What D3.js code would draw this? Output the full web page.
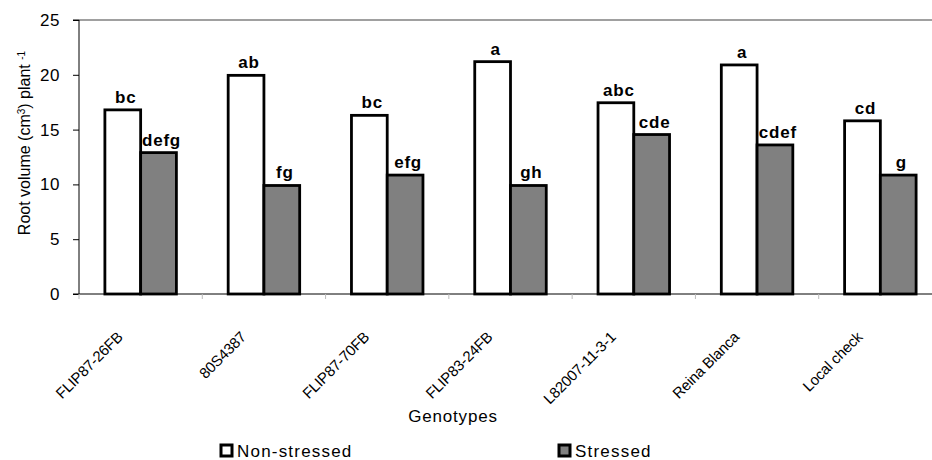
<!DOCTYPE html>
<html>
<head>
<meta charset="utf-8">
<script src="https://cdn.jsdelivr.net/npm/d3@7/dist/d3.min.js"></script>
<style>
  html, body { margin: 0; padding: 0; background: #fff; }
  svg { display: block; font-family: "Liberation Sans", Arial, sans-serif; }
</style>
</head>
<body>
<svg id="chart" width="932" height="460"></svg>
<script>
const categories = ["FLIP87-26FB", "80S4387", "FLIP87-70FB", "FLIP83-24FB", "L82007-11-3-1", "Reina Blanca", "Local check"];
const seriesNames = ["Non-stressed", "Stressed"];
const nonStressed = [16.8, 19.95, 16.3, 21.2, 17.45, 20.9, 15.8];
const stressed = [12.9, 9.9, 10.85, 9.9, 14.55, 13.6, 10.85];
const nonStressedLetters = ["bc", "ab", "bc", "a", "abc", "a", "cd"];
const stressedLetters = ["defg", "fg", "efg", "gh", "cde", "cdef", "g"];
const yTicks = [0, 5, 10, 15, 20, 25];
const seriesColors = ["#ffffff", "#808080"];

const svg = d3.select("#chart");
const mLeft = 79, mRight = 942, mTop = 20, mBottom = 294;

const y = d3.scaleLinear().domain([0, 25]).range([mBottom, mTop]);
const x0 = d3.scaleBand().domain(categories).range([mLeft, mRight]).paddingInner(0.42).paddingOuter(0.21);
const step = x0.step();
const x1 = d3.scaleBand().domain(seriesNames).range([0, x0.bandwidth()]).padding(0);

const data = categories.map((c, i) => ({
  cat: c,
  vals: [
    { s: seriesNames[0], v: nonStressed[i], lab: nonStressedLetters[i], fill: seriesColors[0] },
    { s: seriesNames[1], v: stressed[i], lab: stressedLetters[i], fill: seriesColors[1] }
  ]
}));

// top border
svg.append("line").attr("x1", mLeft).attr("x2", 932).attr("y1", mTop).attr("y2", mTop)
  .attr("stroke", "#808080").attr("stroke-width", 1.3);

// y axis
const yAxis = d3.axisLeft(y).tickValues(yTicks).tickSize(6).tickPadding(13);
const gy = svg.append("g").attr("transform", `translate(${mLeft},0)`).call(yAxis);
gy.select(".domain").attr("stroke", "#000").attr("d", `M-6,${mTop}H0V${mBottom}H-6`);
gy.selectAll(".tick line").attr("stroke", "#000");
gy.selectAll(".tick text").attr("font-size", 17).attr("fill", "#000").attr("letter-spacing", 0.5)
  .attr("font-family", "Liberation Sans, Arial, sans-serif");

// x axis line
svg.append("line").attr("x1", mLeft).attr("x2", 932).attr("y1", mBottom).attr("y2", mBottom)
  .attr("stroke", "#000").attr("stroke-width", 1);

// category boundary ticks
svg.append("g").selectAll("line").data(categories).join("line")
  .attr("x1", d => x0(d) - step * x0.paddingOuter())
  .attr("x2", d => x0(d) - step * x0.paddingOuter())
  .attr("y1", mBottom).attr("y2", mBottom + 5)
  .attr("stroke", "#bbb");

// bars
const groups = svg.append("g").selectAll("g").data(data).join("g")
  .attr("transform", d => `translate(${x0(d.cat)},0)`);

groups.selectAll("rect").data(d => d.vals).join("rect")
  .attr("x", d => x1(d.s))
  .attr("y", d => y(d.v))
  .attr("width", x1.bandwidth())
  .attr("height", d => y(0) - y(d.v))
  .attr("fill", d => d.fill)
  .attr("stroke", "#000")
  .attr("stroke-width", 2.8);

groups.selectAll("text").data(d => d.vals).join("text")
  .attr("x", d => x1(d.s) + x1.bandwidth() / 2 + 3)
  .attr("y", d => y(d.v) - 7)
  .attr("text-anchor", "middle")
  .attr("font-size", 17).attr("font-weight", "bold").attr("letter-spacing", 0.8)
  .text(d => d.lab);

// x tick labels rotated
svg.append("g").selectAll("text").data(categories).join("text")
  .attr("transform", d => `translate(${x0(d) + x0.bandwidth() / 2 - 17},${mBottom + 44}) rotate(-45)`)
  .attr("text-anchor", "end")
  .attr("font-size", 15)
  .attr("letter-spacing", -0.2)
  .text(d => d);

// x title
svg.append("text").attr("x", 453).attr("y", 422).attr("text-anchor", "middle")
  .attr("font-size", 17).attr("letter-spacing", 0.8).text("Genotypes");

// y title
const yt = svg.append("text")
  .attr("transform", `translate(30,143) rotate(-90)`)
  .attr("text-anchor", "middle")
  .attr("font-size", 16);
yt.append("tspan").text("Root volume (cm");
yt.append("tspan").attr("baseline-shift", "super").attr("font-size", 10).text("3");
yt.append("tspan").text(") plant ");
yt.append("tspan").attr("baseline-shift", "super").attr("font-size", 10).text("-1");

// legend
const legendItems = [
  { name: seriesNames[0], fill: seriesColors[0], bx: 221, tx: 237 },
  { name: seriesNames[1], fill: seriesColors[1], bx: 559, tx: 575 }
];
const lg = svg.append("g").selectAll("g").data(legendItems).join("g");
lg.append("rect").attr("x", d => d.bx).attr("y", 445).attr("width", 11).attr("height", 11)
  .attr("fill", d => d.fill).attr("stroke", "#000").attr("stroke-width", 3);
lg.append("text").attr("x", d => d.tx).attr("y", 457).attr("font-size", 17)
  .attr("letter-spacing", 1.2).text(d => d.name);
</script>
</body>
</html>
